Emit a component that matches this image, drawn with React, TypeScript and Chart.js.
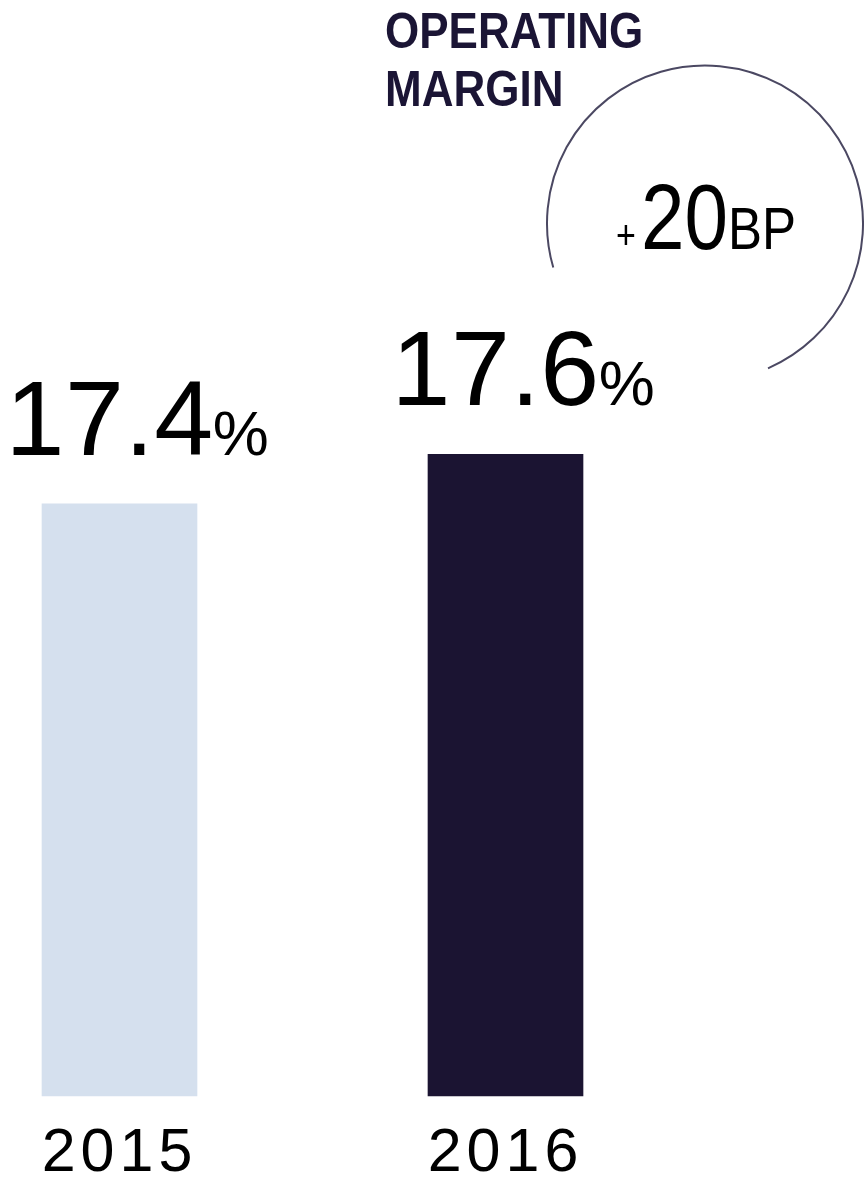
import { useEffect, useRef } from 'react';
import { Chart, registerables } from 'chart.js';

Chart.register(...registerables);

const years = ['2015', '2016'];
const operatingMargin = [17.4, 17.6];
const barColors = ['#d5e0ee', '#1b1432'];
const axisMin = 15;
const axisMax = 19;
const titleLines = ['OPERATING', 'MARGIN'];
const changeSign = '+';
const changeValue = '20';
const changeUnit = 'BP';

const SANS = '"Liberation Sans", Arial, sans-serif';

function drawText(
  ctx: CanvasRenderingContext2D,
  s: string,
  x: number,
  y: number,
  font: string,
  color: string,
  sx = 1,
  ls = '0px'
): number {
  ctx.save();
  ctx.font = font;
  ctx.fillStyle = color;
  ctx.textBaseline = 'alphabetic';
  ctx.textAlign = 'left';
  (ctx as any).letterSpacing = ls;
  ctx.translate(x, y);
  ctx.scale(sx, 1);
  ctx.fillText(s, 0, 0);
  const w = ctx.measureText(s).width * sx;
  ctx.restore();
  return w;
}

export default function App() {
  const ref = useRef<HTMLCanvasElement>(null);

  useEffect(() => {
    const canvas = ref.current;
    if (!canvas) return;

    const annotations = {
      id: 'annotations',
      beforeDraw(chart: any) {
        (chart.ctx as any).letterSpacing = '5px';
      },
      beforeDatasetsDraw(chart: any) {
        (chart.ctx as any).letterSpacing = '0px';
      },
      afterDatasetsDraw(chart: any) {
        const ctx: CanvasRenderingContext2D = chart.ctx;
        const meta = chart.getDatasetMeta(0);

        // value labels
        meta.data.forEach((bar: any, i: number) => {
          const x0 = bar.x - 114;
          const base = bar.y - 49;
          const w = drawText(ctx, operatingMargin[i].toFixed(1), x0, base, `106px ${SANS}`, '#000', 1, '0.5px');
          drawText(ctx, '%', x0 + w - 1, base, `63px ${SANS}`, '#000');
        });

        // title
        drawText(ctx, titleLines[0], 385, 48, `bold 50px ${SANS}`, '#1b1535', 0.88);
        drawText(ctx, titleLines[1], 385, 106, `bold 50px ${SANS}`, '#1b1535', 0.88);

        // change callout anchored to the latest bar
        const last = meta.data[meta.data.length - 1];
        const cx = last.x + 199.5;
        const cy = last.y - 231;
        const r = 158;
        ctx.save();
        ctx.strokeStyle = '#4b4862';
        ctx.lineWidth = 2;
        ctx.beginPath();
        ctx.arc(cx, cy, r, (163.8 * Math.PI) / 180, (426.5 * Math.PI) / 180, false);
        ctx.stroke();
        ctx.restore();

        const base = cy + 26;
        const sx = 0.85;
        drawText(ctx, changeSign, cx - 89, base, `40px ${SANS}`, '#000', sx);
        const w20 = drawText(ctx, changeValue, cx - 64, base, `92px ${SANS}`, '#000', sx);
        drawText(ctx, changeUnit, cx - 64 + w20, base, `60px ${SANS}`, '#000', sx);
      },
    };

    const chart = new Chart(canvas, {
      type: 'bar',
      data: {
        labels: years,
        datasets: [
          {
            data: operatingMargin,
            backgroundColor: barColors,
            barThickness: 155,
            borderWidth: 0,
            base: axisMin,
            clip: false,
          } as any,
        ],
      },
      options: {
        animation: false,
        responsive: false,
        maintainAspectRatio: false,
        layout: { padding: { left: 119.5, right: 358.5, top: 109, bottom: 3 } },
        plugins: {
          legend: { display: false },
          tooltip: { enabled: false },
          title: { display: false },
        },
        scales: {
          x: {
            offset: false,
            grid: { display: false, drawTicks: false },
            border: { display: false },
            ticks: {
              color: '#000',
              font: { family: SANS, size: 61, lineHeight: 1 },
              padding: 28,
              maxRotation: 0,
              minRotation: 0,
              autoSkip: false,
            },
          },
          y: { display: false, min: axisMin, max: axisMax },
        },
      },
      plugins: [annotations],
    });

    return () => chart.destroy();
  }, []);

  return (
    <div
      style={{
        position: 'absolute',
        left: 0,
        top: 0,
        width: 864,
        height: 1182,
        overflow: 'hidden',
        background: '#fff',
      }}
    >
      <canvas ref={ref} width={864} height={1216} style={{ display: 'block', width: 864, height: 1216 }} />
    </div>
  );
}
